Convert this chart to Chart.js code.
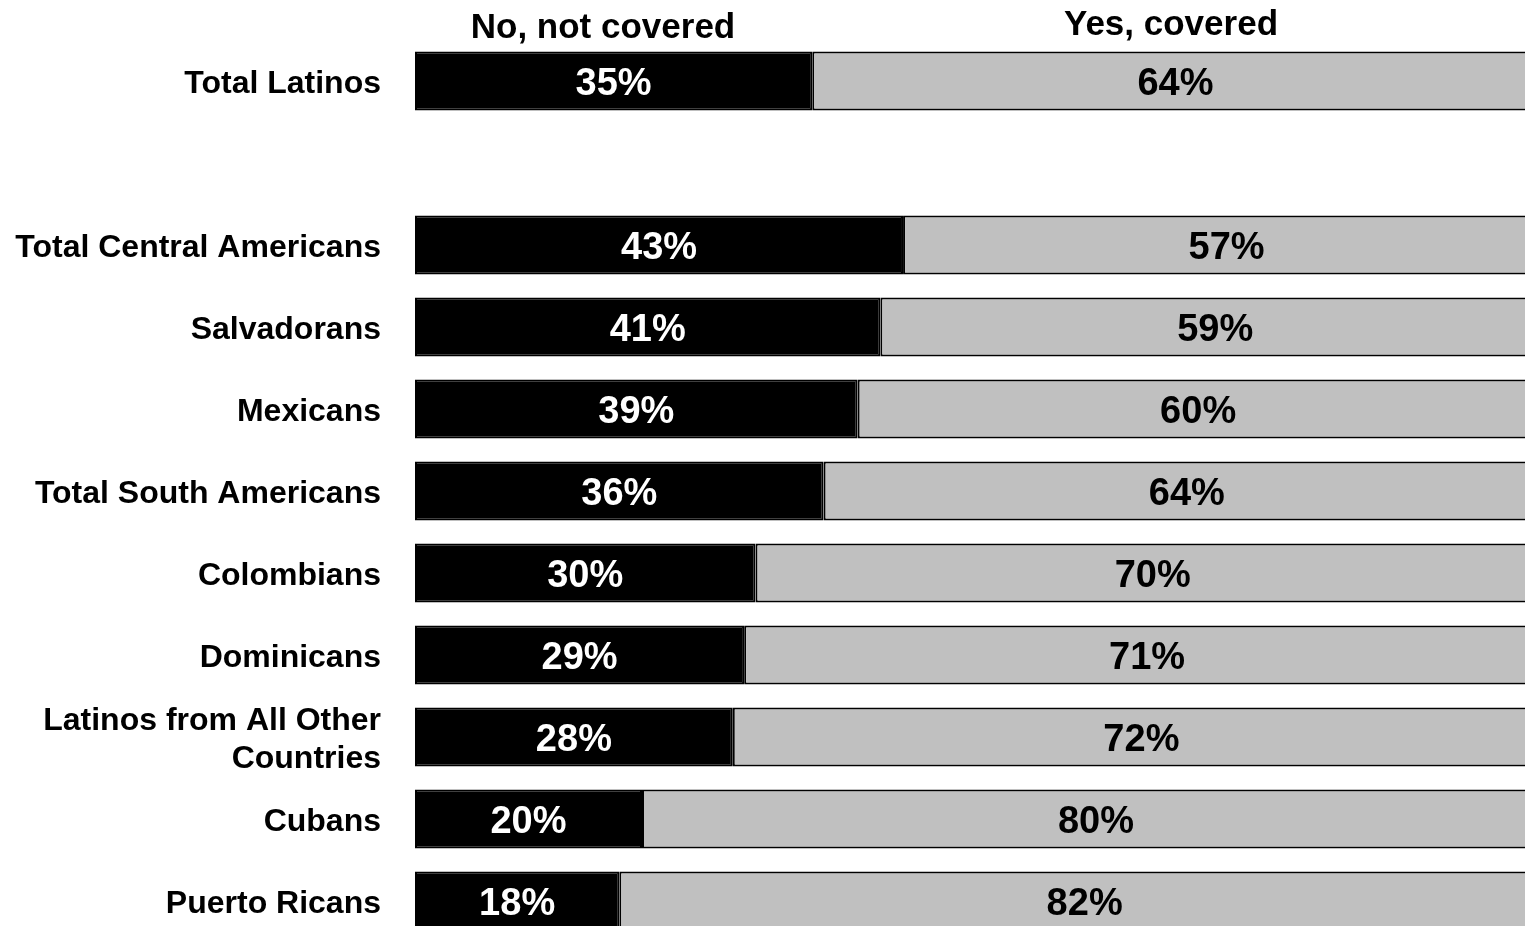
<!DOCTYPE html>
<html>
<head>
<meta charset="utf-8">
<script src="https://cdn.jsdelivr.net/npm/chart.js@4/dist/chart.umd.min.js"></script>
<style>
  html, body { margin: 0; padding: 0; background: #fff; overflow: hidden; }
  #wrap { width: 1525px; height: 926px; overflow: hidden; position: relative; }
  #box { width: 1550px; height: 942px; position: absolute; left: 0; top: 0; }
</style>
</head>
<body>
<div id="wrap"><div id="box"><canvas id="chart"></canvas></div></div>
<script>
// ---- data ----
const categories = [
  "Total Latinos", "",
  "Total Central Americans", "Salvadorans", "Mexicans", "Total South Americans",
  "Colombians", "Dominicans", ["Latinos from All Other", "Countries"], "Cubans", "Puerto Ricans"
];
const notCovered = [35, null, 43, 41, 39, 36, 30, 29, 28, 20, 18];
const covered    = [64, null, 57, 59, 60, 64, 70, 71, 72, 80, 82];
const seriesNames = ["No, not covered", "Yes, covered"];

const FONT = "'Liberation Sans', Arial, sans-serif";

// category labels, segment labels and column headers
const labelPlugin = {
  id: "labels",
  afterDatasetsDraw(chart) {
    const ctx = chart.ctx;
    const y = chart.scales.y;
    ctx.save();

    // row labels
    ctx.fillStyle = "#000";
    ctx.font = "bold 32px " + FONT;
    ctx.textAlign = "right";
    ctx.textBaseline = "middle";
    categories.forEach((c, i) => {
      if (!c) return;
      const lines = Array.isArray(c) ? c : [c];
      const cy = y.getPixelForValue(i);
      const lh = 38;
      lines.forEach((ln, k) => {
        ctx.fillText(ln, 381, cy + (k - (lines.length - 1) / 2) * lh + 3);
      });
    });

    // values inside bars
    ctx.font = "bold 38px " + FONT;
    ctx.textAlign = "center";
    chart.data.datasets.forEach((ds, di) => {
      const meta = chart.getDatasetMeta(di);
      meta.data.forEach((bar, i) => {
        if (ds.data[i] == null) return;
        const p = bar.getProps(["x", "y", "base"], true);
        ctx.fillStyle = di === 0 ? "#fff" : "#000";
        ctx.fillText(ds.data[i] + "%", (p.x + p.base) / 2, p.y + 4);
      });
    });

    // column headers
    ctx.fillStyle = "#000";
    ctx.font = "bold 35px " + FONT;
    ctx.fillText(seriesNames[0], 603, 28);
    ctx.fillText(seriesNames[1], 1171, 25);
    ctx.restore();
  }
};

new Chart(document.getElementById("chart"), {
  type: "bar",
  data: {
    labels: categories,
    datasets: [
      { label: seriesNames[0], data: notCovered, backgroundColor: "#000000",
        borderColor: "#000000", borderWidth: 2, borderSkipped: false },
      { label: seriesNames[1], data: covered, backgroundColor: "#c0c0c0",
        borderColor: "#000000", borderWidth: 2, borderSkipped: false }
    ]
  },
  options: {
    indexAxis: "y",
    responsive: true,
    maintainAspectRatio: false,
    animation: false,
    layout: { padding: { left: 415, top: 40, right: 0, bottom: 0 } },
    datasets: { bar: { barPercentage: 0.72, categoryPercentage: 1 } },
    plugins: { legend: { display: false }, tooltip: { enabled: false } },
    scales: {
      x: { stacked: true, min: 0, max: 100, display: false },
      y: { stacked: true, display: false }
    }
  },
  plugins: [labelPlugin]
});
</script>
</body>
</html>
